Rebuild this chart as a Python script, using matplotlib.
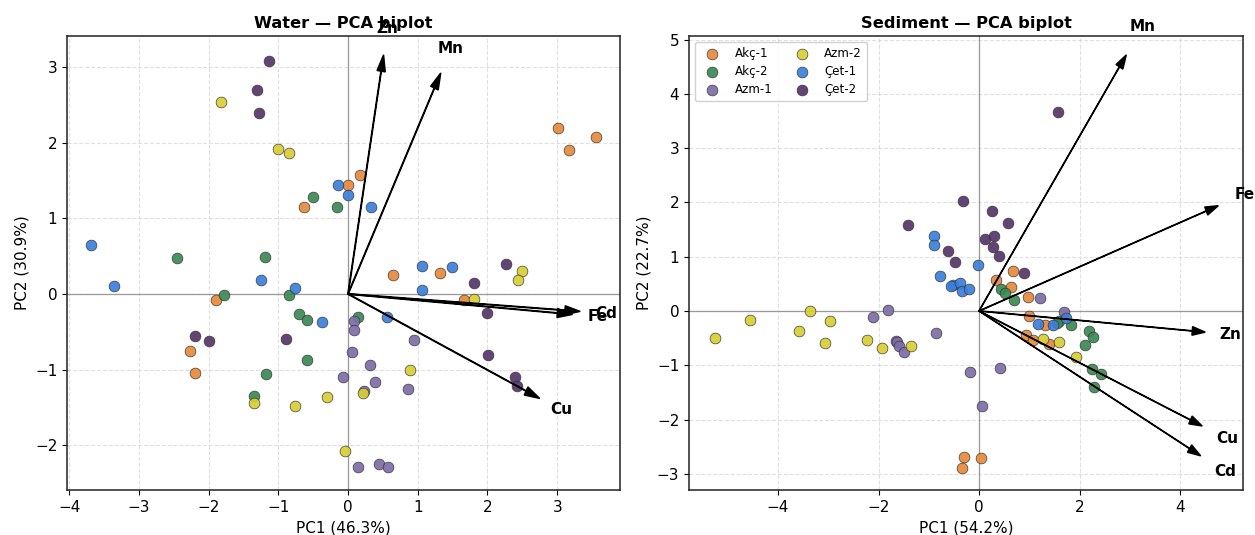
import matplotlib
matplotlib.use("Agg")
import matplotlib.pyplot as plt
import numpy as np

groups = ["Akç-1", "Akç-2", "Azm-1", "Azm-2", "Çet-1", "Çet-2"]
colors = ["#E8893A", "#3A8A52", "#7D6EA8", "#D8CF33", "#3A7FDC", "#553569"]

# ---------------- Water scores ----------------
water_akc1_x = [3.01, 3.55, 3.17, 0.17, 0.00, -0.63, 0.64, 1.32, 1.67, -1.90, -2.26, -2.19]
water_akc1_y = [2.19, 2.08, 1.90, 1.57, 1.44, 1.15, 0.25, 0.28, -0.08, -0.08, -0.75, -1.05]
water_akc2_x = [-0.50, -0.16, -2.45, -1.19, -1.78, -0.84, -0.70, -0.59, 0.15, -0.59, -1.17, -1.35]
water_akc2_y = [1.28, 1.15, 0.47, 0.49, -0.01, -0.01, -0.27, -0.34, -0.30, -0.87, -1.06, -1.35]
water_azm1_x = [0.09, 0.09, 0.94, 0.05, 0.32, -0.07, 0.38, 0.23, 0.86, 0.15, 0.44, 0.57]
water_azm1_y = [-0.36, -0.47, -0.61, -0.76, -0.94, -1.10, -1.16, -1.28, -1.26, -2.29, -2.25, -2.29]
water_azm2_x = [-1.82, -1.00, -0.84, 2.49, 2.44, 1.81, 0.89, 0.22, -1.35, -0.76, -0.30, -0.04]
water_azm2_y = [2.54, 1.91, 1.86, 0.30, 0.19, -0.07, -1.00, -1.31, -1.44, -1.48, -1.36, -2.08]
water_cet1_x = [-0.15, 0.00, 0.33, -3.69, -3.35, 1.06, 1.49, 1.06, -1.25, -0.76, -0.37, 0.56]
water_cet1_y = [1.44, 1.31, 1.15, 0.65, 0.11, 0.37, 0.35, 0.05, 0.18, 0.08, -0.37, -0.30]
water_cet2_x = [-1.13, -1.30, -1.28, 2.27, 1.81, 1.99, -2.20, -2.00, -0.89, 2.01, 2.40, 2.42]
water_cet2_y = [3.08, 2.70, 2.39, 0.40, 0.15, -0.25, -0.55, -0.62, -0.59, -0.80, -1.09, -1.22]

water_vars = ["Zn", "Mn", "Cd", "Fe", "Cu"]
water_load_x = [0.51, 1.33, 3.33, 3.22, 2.75]
water_load_y = [3.16, 2.92, -0.23, -0.27, -1.38]

# ---------------- Sediment scores ----------------
sed_akc1_x = [-0.29, 0.04, -0.33, 0.33, 0.68, 0.64, 0.97, 0.99, 1.32, 0.93, 1.07, 1.40]
sed_akc1_y = [-2.70, -2.71, -2.90, 0.58, 0.74, 0.45, 0.25, -0.09, -0.26, -0.44, -0.53, -0.61]
sed_akc2_x = [0.44, 0.51, 0.70, 1.60, 1.56, 1.83, 2.18, 2.26, 2.10, 2.25, 2.43, 2.29]
sed_akc2_y = [0.40, 0.34, 0.20, -0.18, -0.23, -0.26, -0.37, -0.48, -0.63, -1.07, -1.16, -1.40]
sed_azm1_x = [-2.10, -1.81, -1.66, -1.63, -1.60, -1.49, -0.86, -0.18, 0.41, 0.06, 1.21, 1.70]
sed_azm1_y = [-0.12, 0.02, -0.55, -0.58, -0.64, -0.76, -0.41, -1.12, -1.05, -1.75, 0.23, -0.01]
sed_azm2_x = [-5.25, -4.55, -3.37, -2.97, -3.59, -3.07, -2.23, -1.93, -1.36, 1.28, 1.59, 1.92]
sed_azm2_y = [-0.49, -0.17, 0.00, -0.18, -0.36, -0.59, -0.53, -0.68, -0.64, -0.51, -0.58, -0.85]
sed_cet1_x = [-0.02, -0.78, -0.52, -0.55, -0.37, -0.34, -0.19, -0.89, -0.89, 1.17, 1.47, 1.72]
sed_cet1_y = [0.85, 0.65, 0.47, 0.46, 0.51, 0.37, 0.40, 1.38, 1.21, -0.24, -0.26, -0.13]
sed_cet2_x = [1.58, -0.32, -1.41, 0.26, 0.58, 0.12, 0.29, 0.27, 0.40, -0.62, -0.47, 0.89]
sed_cet2_y = [3.66, 2.03, 1.58, 1.84, 1.63, 1.32, 1.39, 1.17, 1.02, 1.11, 0.90, 0.70]

sed_vars = ["Mn", "Fe", "Zn", "Cu", "Cd"]
sed_load_x = [2.93, 4.76, 4.50, 4.44, 4.41]
sed_load_y = [4.72, 1.94, -0.39, -2.12, -2.67]

water_x = [water_akc1_x, water_akc2_x, water_azm1_x, water_azm2_x, water_cet1_x, water_cet2_x]
water_y = [water_akc1_y, water_akc2_y, water_azm1_y, water_azm2_y, water_cet1_y, water_cet2_y]
sed_x = [sed_akc1_x, sed_akc2_x, sed_azm1_x, sed_azm2_x, sed_cet1_x, sed_cet2_x]
sed_y = [sed_akc1_y, sed_akc2_y, sed_azm1_y, sed_azm2_y, sed_cet1_y, sed_cet2_y]

fig = plt.figure(figsize=(12.55, 5.35), dpi=100)
ax1 = fig.add_axes([0.0534, 0.084, 0.4406, 0.849])
ax2 = fig.add_axes([0.549, 0.084, 0.4414, 0.849])


def draw(ax, xs, ys, vars_, lx, ly, title, xlabel, ylabel, xlim, ylim, hw, hl, legend=False):
    ax.grid(True, linestyle="--", color="#cccccc", alpha=0.6, linewidth=0.8)
    ax.set_axisbelow(True)
    ax.axhline(0, color="#999999", linewidth=0.9, zorder=1)
    ax.axvline(0, color="#999999", linewidth=0.9, zorder=1)
    for g, c, x, y in zip(groups, colors, xs, ys):
        ax.scatter(x, y, s=60, color=c, edgecolor="#333333", linewidth=0.5,
                   alpha=0.92, label=g, zorder=3)
    for name, x, y in zip(vars_, lx, ly):
        ax.arrow(0, 0, x, y, color="black", width=0.008, head_width=hw,
                 head_length=hl, length_includes_head=True, zorder=4)
        ax.text(x * 1.11, y * 1.11, name, fontsize=11, fontweight="bold",
                ha="center", va="center", clip_on=False, zorder=5)
    ax.set_xlim(*xlim)
    ax.set_ylim(*ylim)
    ax.set_title(title, fontsize=11.7, fontweight="bold")
    ax.set_xlabel(xlabel, fontsize=11)
    ax.set_ylabel(ylabel, fontsize=11)
    ax.tick_params(labelsize=11)
    for sp in ax.spines.values():
        sp.set_linewidth(1.1)
        sp.set_color("#222222")
    if legend:
        ax.legend(loc="upper left", ncol=2, fontsize=8.6, framealpha=0.9,
                  borderpad=0.45, labelspacing=0.4, handletextpad=0.9,
                  columnspacing=1.4)


draw(ax1, water_x, water_y, water_vars, water_load_x, water_load_y,
     "Water — PCA biplot", "PC1 (46.3%)", "PC2 (30.9%)",
     (-4.03, 3.90), (-2.59, 3.41), 0.12, 0.22)
draw(ax2, sed_x, sed_y, sed_vars, sed_load_x, sed_load_y,
     "Sediment — PCA biplot", "PC1 (54.2%)", "PC2 (22.7%)",
     (-5.77, 5.25), (-3.30, 5.07), 0.16, 0.26, legend=True)

fig.savefig("out.png", dpi=100)
